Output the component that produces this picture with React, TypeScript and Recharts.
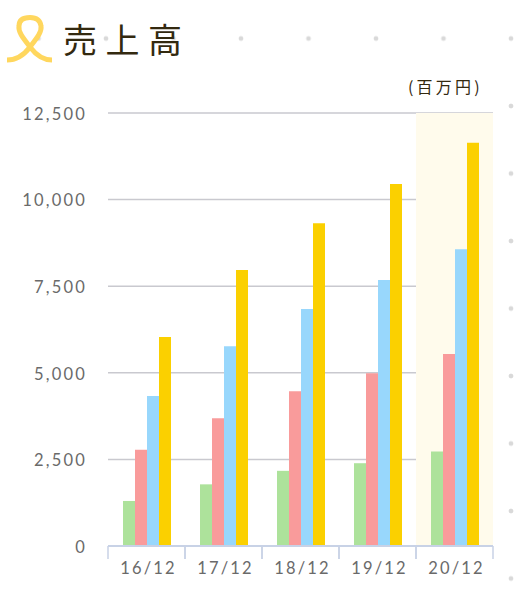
import React from "react";
import { BarChart, Bar, XAxis, YAxis, CartesianGrid, ReferenceArea } from "recharts";

const categories = ["16/12", "17/12", "18/12", "19/12", "20/12"];
const seriesGreen = [1300, 1780, 2170, 2390, 2730];
const seriesPink = [2780, 3690, 4470, 4990, 5540];
const seriesBlue = [4330, 5770, 6840, 7680, 8570];
const seriesYellow = [6030, 7970, 9320, 10450, 11640];
const yTicks = [0, 2500, 5000, 7500, 10000, 12500];
const highlighted = "20/12";
const title = "売上高";
const unit = "(百万円)";

const rows = categories.map((category, i) => ({
  category,
  green: seriesGreen[i],
  pink: seriesPink[i],
  blue: seriesBlue[i],
  yellow: seriesYellow[i],
}));

const tickFont = { fontFamily: "Lato, sans-serif", fontSize: 16.5, fontWeight: 400, fill: "#6a6a6a", letterSpacing: 2.2 };
const BAND = 77;

function XTick(props: any) {
  const { x, payload } = props;
  const axisY = 546;
  return (
    <g>
      <line x1={x - BAND / 2} x2={x - BAND / 2} y1={axisY} y2={axisY + 13} stroke="#c8d2e6" strokeWidth={1.5} />
      <line x1={x + BAND / 2} x2={x + BAND / 2} y1={axisY} y2={axisY + 13} stroke="#c8d2e6" strokeWidth={1.5} />
      <text x={x + 2} y={axisY + 28} textAnchor="middle" {...tickFont}>
        {payload.value}
      </text>
    </g>
  );
}

export default function App() {
  return (
    <div
      style={{
        position: "absolute",
        left: 0,
        top: 0,
        width: 531,
        height: 601,
        overflow: "hidden",
        background: "#fff",
        backgroundImage: "radial-gradient(circle, #d9d9d9 0, #d9d9d9 2px, transparent 2.7px)",
        backgroundSize: "67.5px 67.5px",
        backgroundPosition: "4.75px 4.75px",
      }}
    >
      <div style={{ position: "absolute", left: 0, top: 62, width: 497, height: 539, background: "#fff" }} />
      <svg style={{ position: "absolute", left: 0, top: 0 }} width={60} height={70}>
        <path
          d="M7 60 C17 60 24 55 30 47 C37 38 42 32 41 26 C40 19 35 17.5 30 17.5 C25 17.5 19 19 19 26 C18 32 23 38 30 47 C36 55 43 60 52 60"
          fill="none"
          stroke="#ffd75e"
          strokeWidth={5}
        />
      </svg>
      <div
        style={{
          position: "absolute",
          left: 63,
          top: 15,
          fontFamily: "'Noto Sans CJK JP', sans-serif",
          fontWeight: 400,
          fontSize: 34,
          letterSpacing: 8.5,
          lineHeight: "48px",
          color: "#33290f",
          whiteSpace: "nowrap",
        }}
      >
        {title}
      </div>
      <div
        style={{
          position: "absolute",
          left: 408,
          top: 75,
          fontFamily: "'Noto Sans CJK JP', sans-serif",
          fontSize: 16,
          letterSpacing: 3.2,
          lineHeight: "22px",
          color: "#33290f",
          whiteSpace: "nowrap",
        }}
      >
        {unit}
      </div>
      <BarChart
        style={{ position: "absolute", left: 0, top: 0 }}
        width={531}
        height={601}
        data={rows}
        margin={{ top: 113, right: 38, bottom: 25, left: 0 }}
        barGap={0}
        barSize={12}
      >
        <ReferenceArea x1={highlighted} x2={highlighted} fill="#fffbec" fillOpacity={1} stroke="none" />
        <CartesianGrid horizontal vertical={false} stroke="#c9c9cf" strokeWidth={1.5} />
        <XAxis
          dataKey="category"
          axisLine={{ stroke: "#c8d2e6", strokeWidth: 2 }}
          tickLine={false}
          tick={<XTick />}
          interval={0}
        />
        <YAxis
          width={108}
          domain={[0, 12500]}
          ticks={yTicks}
          tickFormatter={(v: number) => v.toLocaleString("en-US")}
          axisLine={false}
          tickLine={false}
          tick={{ ...tickFont, dy: 1 }}
          tickMargin={15}
        />
        <Bar dataKey="green" fill="#ade29b" isAnimationActive={false} />
        <Bar dataKey="pink" fill="#f99b9b" isAnimationActive={false} />
        <Bar dataKey="blue" fill="#98d7fc" isAnimationActive={false} />
        <Bar dataKey="yellow" fill="#fbd000" isAnimationActive={false} />
      </BarChart>
    </div>
  );
}
